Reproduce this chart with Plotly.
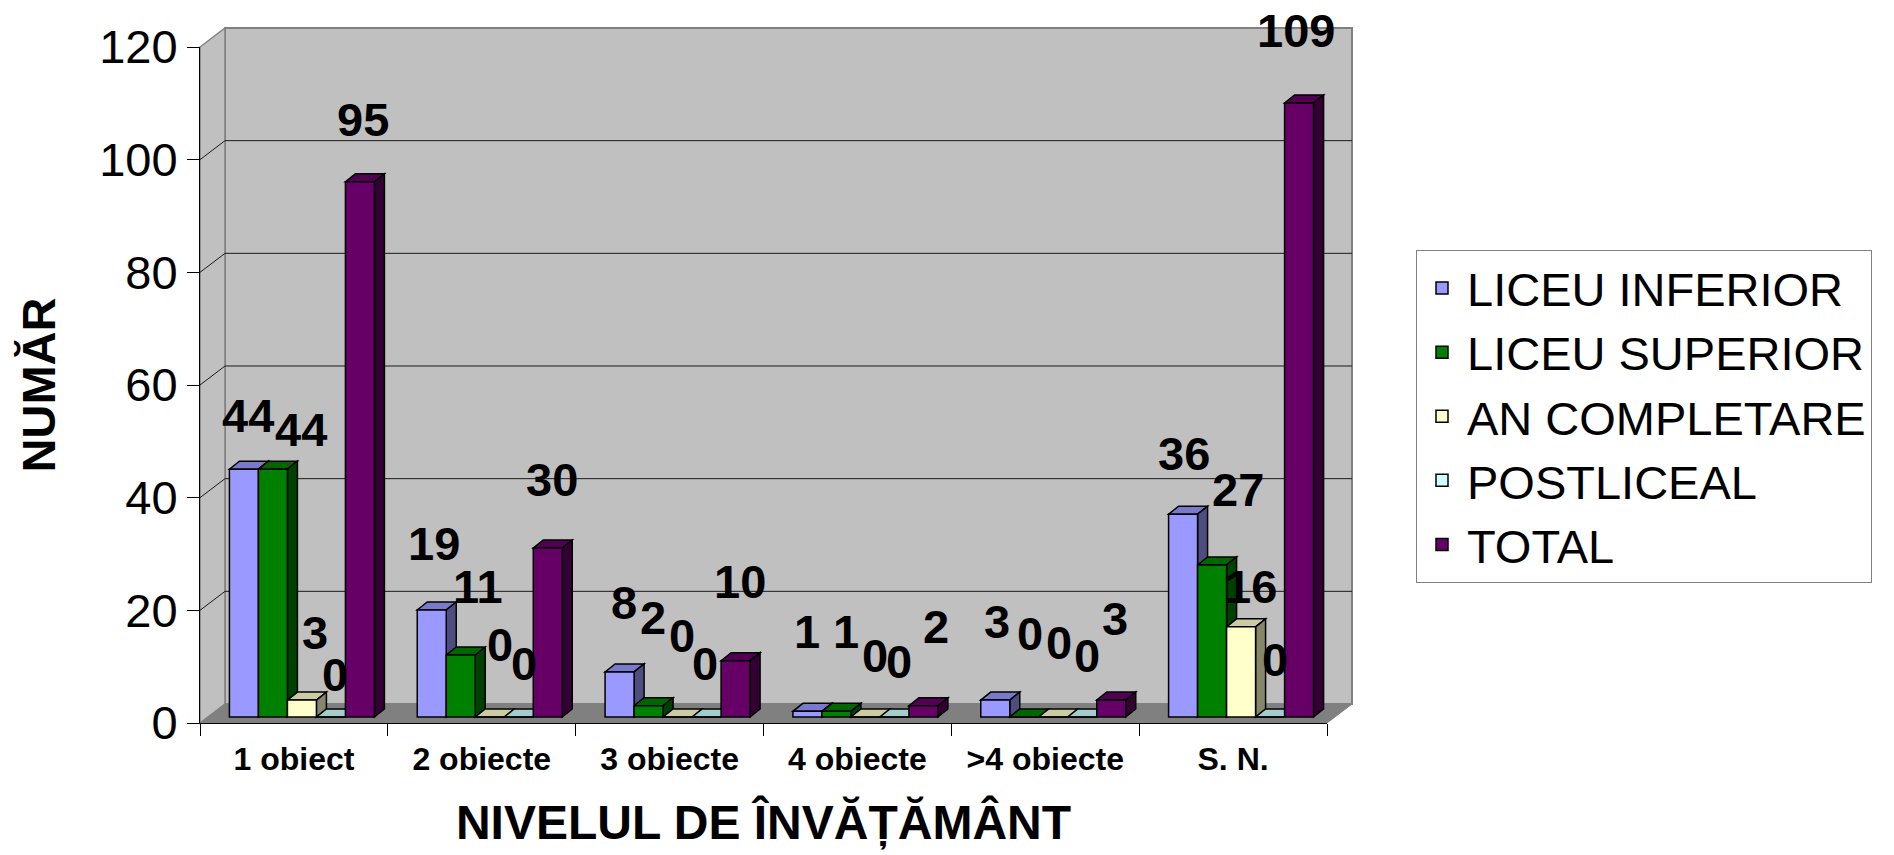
import plotly.graph_objects as go

# ---------------- data ----------------
categories = ["1 obiect", "2 obiecte", "3 obiecte", "4 obiecte", ">4 obiecte", "S. N."]
liceu_inferior = [44, 19, 8, 1, 3, 36]
liceu_superior = [44, 11, 2, 1, 0, 27]
an_completare = [3, 0, 0, 0, 0, 16]
postliceal = [0, 0, 0, 0, 0, 0]
total = [95, 30, 10, 2, 3, 109]
series_names = ["LICEU INFERIOR", "LICEU SUPERIOR", "AN COMPLETARE", "POSTLICEAL", "TOTAL"]
y_ticks = [0, 20, 40, 60, 80, 100, 120]
x_title = "NIVELUL DE ÎNVĂȚĂMÂNT"
y_title = "NUMĂR"

series_values = [liceu_inferior, liceu_superior, an_completare, postliceal, total]

# ---------------- style ----------------
FONT = "Liberation Sans, Arial, sans-serif"
front_colors = ["#9999FF", "#008000", "#FFFFCC", "#CCFFFF", "#660066"]
top_colors = ["#7A7ACC", "#006600", "#CCCCA3", "#A3CCCC", "#520052"]
side_colors = ["#4D4D80", "#004000", "#86866B", "#668080", "#330033"]

# label nudges (pixels) per series, per category: (right, up) from the bar's front top
label_dx = [[4, 2, 4, 0, 2, 1],
            [28, 17, 4, 10, 6, 26],
            [13, 10, 4, 10, 6, 10],
            [4, 5, -2, 5, 5, 5],
            [3, 4, 4, 13, 4, -3]]
label_up = [[54, 66, 69, 80, 79, 61],
            [40, 69, 88, 80, 84, 75],
            [68, 73, 82, 62, 75, 40],
            [43, 54, 54, 56, 62, 58],
            [62, 69, 79, 79, 82, 72]]

W, H = 1894, 855
ML, MR, MT, MB = 200, 567, 47, 132
PW = W - ML - MR
PH = H - MT - MB
Y_MAX = 120
n = len(categories)
k = len(series_values)
PX = PW / n          # pixels per category unit
PY = PH / Y_MAX      # pixels per value unit

WALL_DX, WALL_DY = 25, 19     # depth of the 3D box (px)
BAR_SHIFT_X, BAR_SHIFT_Y = 8, 6
BAR_W = 29
BAR_DX, BAR_DY = 10, 8        # depth of each bar (px)

bw = BAR_W / PX
base = BAR_SHIFT_Y / PY
shift = BAR_SHIFT_X / PX
bdx = BAR_DX / PX
bdy = BAR_DY / PY

fig = go.Figure()
shapes = []
annotations = []

# ---------------- 3D box (walls, floor, gridlines) ----------------
wdx = WALL_DX / PW
wdy = WALL_DY / PH
dom = dict(xref="x domain", yref="y domain", layer="below")
shapes.append(dict(type="rect", x0=wdx, x1=1 + wdx, y0=wdy, y1=1 + wdy,
                   fillcolor="#C0C0C0", line=dict(color="#808080", width=2), **dom))
shapes.append(dict(type="path", path=f"M0,0 L{wdx},{wdy} L{wdx},{1 + wdy} L0,1 Z",
                   fillcolor="#C0C0C0", line=dict(color="#808080", width=1.5), **dom))
shapes.append(dict(type="path", path=f"M0,0 L1,0 L{1 + wdx},{wdy} L{wdx},{wdy} Z",
                   fillcolor="#808080", line=dict(color="#808080", width=1), **dom))
for t in y_ticks[1:-1]:
    f = t / Y_MAX
    shapes.append(dict(type="line", x0=wdx, x1=1 + wdx, y0=f + wdy, y1=f + wdy,
                       line=dict(color="#1a1a1a", width=1), **dom))
    shapes.append(dict(type="line", x0=0, x1=wdx, y0=f, y1=f + wdy,
                       line=dict(color="#1a1a1a", width=1), **dom))

# ---------------- bars ----------------
for s, (name, vals) in enumerate(zip(series_names, series_values)):
    off = shift + (s - k / 2) * bw
    fig.add_trace(go.Bar(
        x=categories, y=vals, base=[base] * n, offset=off, width=bw, name=name,
        marker=dict(color=front_colors[s], line=dict(color="black", width=1.5)),
        hovertemplate="%{x}<br>" + name + ": %{y}<extra></extra>",
    ))
    for g, v in enumerate(vals):
        xl = g + off
        xr = xl + bw
        top = base + v
        shapes.append(dict(
            type="path", xref="x", yref="y", layer="below",
            path=f"M{xl},{top} L{xr},{top} L{xr + bdx},{top + bdy} L{xl + bdx},{top + bdy} Z",
            fillcolor=top_colors[s], line=dict(color="black", width=1.5)))
        if v > 0:
            shapes.append(dict(
                type="path", xref="x", yref="y", layer="below",
                path=f"M{xr},{base} L{xr},{top} L{xr + bdx},{top + bdy} L{xr + bdx},{base + bdy} Z",
                fillcolor=side_colors[s], line=dict(color="black", width=1.5)))
        annotations.append(dict(
            x=xl + bw / 2, y=top, xref="x", yref="y", text=str(v), showarrow=False,
            xanchor="center", yanchor="middle",
            xshift=label_dx[s][g], yshift=label_up[s][g],
            font=dict(family=FONT, size=47, color="black", weight="bold")))

fig.update_layout(
    width=W, height=H,
    margin=dict(l=ML, r=MR, t=MT, b=MB, pad=0, autoexpand=False),
    paper_bgcolor="white", plot_bgcolor="rgba(0,0,0,0)",
    barmode="overlay",
    font=dict(family=FONT, color="black"),
    shapes=shapes, annotations=annotations,
    xaxis=dict(type="category", categoryorder="array", categoryarray=categories,
               range=[-0.5, n - 0.5], showline=True, linecolor="black", linewidth=1,
               ticks="outside", tickson="boundaries", ticklen=12, tickcolor="black",
               showgrid=False, zeroline=False,
               tickfont=dict(family=FONT, size=32, weight="bold"), ticklabelstandoff=8,
               title=dict(text=x_title, font=dict(family=FONT, size=48, weight="bold"),
                          standoff=28)),
    yaxis=dict(range=[0, Y_MAX], tickvals=y_ticks, showline=True, linecolor="black",
               linewidth=1, ticks="outside", ticklen=12, tickcolor="black",
               showgrid=False, zeroline=False,
               tickfont=dict(family=FONT, size=47),
               title=dict(text=y_title, font=dict(family=FONT, size=47, weight="bold"),
                          standoff=28)),
    legend=dict(x=(1416 - ML) / PW, y=(MT + PH - 250) / PH, xanchor="left", yanchor="top",
                bordercolor="#808080", borderwidth=1, bgcolor="white",
                font=dict(family=FONT, size=47, color="black"),
                itemwidth=40, traceorder="normal"),
)

fig.write_html("out.html",
               config={"displayModeBar": False},
               post_script="document.body.style.margin='0';document.body.style.overflow='hidden';")
